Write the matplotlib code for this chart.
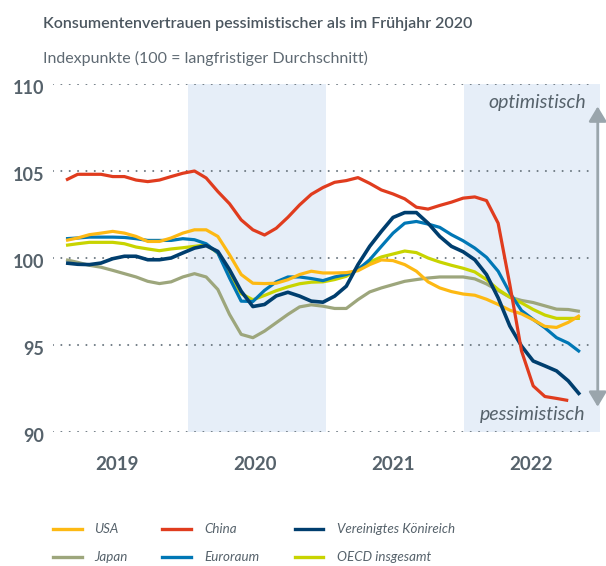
import matplotlib
matplotlib.use("Agg")
import matplotlib.pyplot as plt
from matplotlib.lines import Line2D
from matplotlib.patches import FancyArrowPatch
from matplotlib.transforms import ScaledTranslation
from matplotlib import font_manager

# ---------------- data (monthly, Feb 2019 .. Oct 2022) ----------------
usa = [101.01, 101.15, 101.34, 101.43, 101.53, 101.43, 101.24, 100.95, 100.95, 101.15,
       101.43, 101.62, 101.62, 101.24, 100.19, 99.05, 98.55, 98.53, 98.55, 98.75,
       99.05, 99.24, 99.14, 99.14, 99.16, 99.27, 99.62, 99.89, 99.85, 99.62,
       99.24, 98.63, 98.28, 98.07, 97.93, 97.86, 97.63, 97.33, 97.00, 96.79,
       96.45, 96.07, 96.01, 96.30, 96.70]
china = [104.48, 104.81, 104.81, 104.81, 104.68, 104.68, 104.48, 104.39, 104.48, 104.68,
         104.87, 105.00, 104.60, 103.82, 103.12, 102.19, 101.62, 101.32, 101.71, 102.34,
         103.05, 103.66, 104.05, 104.35, 104.45, 104.62, 104.29, 103.91, 103.68, 103.40,
         102.92, 102.81, 103.02, 103.21, 103.44, 103.51, 103.30, 102.00, 98.47, 94.66,
         92.65, 92.04, 91.93, 91.81]
uk = [99.71, 99.64, 99.62, 99.71, 99.96, 100.10, 100.10, 99.90, 99.90, 100.00,
      100.29, 100.57, 100.71, 100.38, 99.33, 98.09, 97.21, 97.33, 97.82, 98.03,
      97.81, 97.52, 97.46, 97.81, 98.38, 99.62, 100.67, 101.53, 102.33, 102.61,
      102.61, 102.00, 101.24, 100.67, 100.36, 99.90, 99.05, 97.71, 96.09, 94.94,
      94.08, 93.80, 93.51, 92.94, 92.14]
japan = [99.90, 99.75, 99.58, 99.47, 99.29, 99.10, 98.91, 98.66, 98.53, 98.63,
         98.91, 99.10, 98.91, 98.19, 96.76, 95.61, 95.42, 95.80, 96.28, 96.76,
         97.19, 97.31, 97.23, 97.10, 97.10, 97.61, 98.05, 98.28, 98.47, 98.66,
         98.76, 98.85, 98.91, 98.91, 98.91, 98.80, 98.51, 98.13, 97.75, 97.56,
         97.44, 97.25, 97.06, 97.04, 96.93]
euro = [101.11, 101.15, 101.20, 101.20, 101.20, 101.18, 101.11, 101.01, 101.01, 101.01,
        101.11, 101.05, 100.82, 100.29, 98.85, 97.52, 97.50, 98.14, 98.63, 98.91,
        98.91, 98.82, 98.70, 98.91, 99.05, 99.33, 99.90, 100.67, 101.43, 102.00,
        102.10, 101.95, 101.76, 101.34, 100.99, 100.57, 100.04, 99.24, 98.00, 96.98,
        96.47, 95.99, 95.42, 95.11, 94.60]
oecd = [100.73, 100.82, 100.90, 100.90, 100.90, 100.82, 100.63, 100.52, 100.42, 100.52,
        100.59, 100.67, 100.76, 100.29, 99.05, 97.95, 97.60, 97.85, 98.12, 98.34,
        98.52, 98.61, 98.63, 98.76, 98.95, 99.39, 99.77, 100.06, 100.23, 100.40,
        100.31, 100.00, 99.77, 99.58, 99.41, 99.20, 98.76, 98.19, 97.75, 97.42,
        97.04, 96.72, 96.53, 96.53, 96.53]

years = ["2019", "2020", "2021", "2022"]
yticks = [90, 95, 100, 105, 110]
labels = ["USA", "China", "Vereinigtes Könireich", "Japan", "Euroraum", "OECD insgesamt"]

title = "Konsumentenvertrauen pessimistischer als im Frühjahr 2020"
subtitle = "Indexpunkte (100 = langfristiger Durchschnitt)"

# ---------------- styling ----------------
colors = {
    "USA": "#FDB913",
    "China": "#E03C1E",
    "Vereinigtes Könireich": "#003E6E",
    "Japan": "#9DA67C",
    "Euroraum": "#0077B5",
    "OECD insgesamt": "#C8D400",
}
series = {"USA": usa, "China": china, "Vereinigtes Könireich": uk,
          "Japan": japan, "Euroraum": euro, "OECD insgesamt": oecd}
draw_order = ["Japan", "OECD insgesamt", "Euroraum", "USA", "Vereinigtes Könireich", "China"]

TXT = "#56626B"
FONT = "Lato"
plt.rcParams["font.family"] = [FONT, "DejaVu Sans"]


def has_font(name):
    try:
        font_manager.findfont(font_manager.FontProperties(family=name),
                              fallback_to_default=False)
        return True
    except Exception:
        return False


LEG_FONT = "Liberation Sans Narrow" if has_font("Liberation Sans Narrow") else FONT

W, H = 606, 566
fig = plt.figure(figsize=(W / 100, H / 100), dpi=100)
renderer = fig.canvas.get_renderer()


def fx(px):
    return px / W


def fy(py):
    return 1 - py / H


ax = fig.add_axes([fx(53), fy(432), fx(600) - fx(53), fy(84) - fy(432)])

# x positions: month index, axis range derived from layout
x0, x1 = -1.113, 45.72
ax.set_xlim(x0, x1)
ax.set_ylim(90, 110)

shade = "#E6EEF8"
ax.axvspan(10.445, 22.26, color=shade, lw=0, zorder=0)
ax.axvspan(34.08, x1, color=shade, lw=0, zorder=0)

for yv in yticks:
    ax.axhline(yv, xmin=0, xmax=0.9927, color="#6E7A83", lw=1.5,
               linestyle=(0, (0.01, 4.0)), dash_capstyle="round", zorder=1)

for name in draw_order:
    vals = series[name]
    lw = 2.6 if name == "Vereinigtes Könireich" else 2.3
    ax.plot(range(len(vals)), vals, color=colors[name], lw=lw,
            solid_joinstyle="round", solid_capstyle="butt", zorder=3)

for s in ax.spines.values():
    s.set_visible(False)

ax.set_yticks(yticks)
ax.set_yticklabels([str(v) for v in yticks])
ax.tick_params(axis="y", length=0, pad=6.5, labelsize=13, labelcolor=TXT)
for lab in ax.get_yticklabels():
    lab.set_fontweight("bold")
    lab.set_transform(lab.get_transform() + ScaledTranslation(0, -3.0 / 100, fig.dpi_scale_trans))

ax.set_xticks([4.365, 16.18, 28.0, 39.8])
ax.set_xticklabels(years)
ax.tick_params(axis="x", length=0, pad=17, labelsize=13.5, labelcolor=TXT)
for lab in ax.get_xticklabels():
    lab.set_fontweight("bold")

# double arrow optimistisch / pessimistisch
arr = FancyArrowPatch((45.52, 91.45), (45.52, 108.71),
                      arrowstyle="<|-|>,head_length=0.45,head_width=0.27",
                      mutation_scale=20, color="#9AA5AC", lw=1.9,
                      clip_on=False, zorder=4, shrinkA=0, shrinkB=0)
ax.add_patch(arr)
ax.text(44.5, 108.95, "optimistisch", ha="right", va="center", fontsize=14,
        style="italic", color=TXT)
ax.text(44.5, 91.0, "pessimistisch", ha="right", va="center", fontsize=14,
        style="italic", color=TXT)

# titles
fig.text(fx(43), fy(28), title, ha="left", va="baseline", fontsize=11.5,
         fontweight="semibold", color="#4B565F")
fig.text(fx(43), fy(63), subtitle, ha="left", va="baseline", fontsize=11.5,
         color="#5F6A73")

# legend (manual layout); font size fitted so the longest label spans ~118 px
probe = fig.text(0, 0, "Vereinigtes Könireich", fontsize=10, style="italic",
                 family=[LEG_FONT, "DejaVu Sans"])
wpx = probe.get_window_extent(renderer=renderer).width
probe.remove()
leg_size = 10 * 118.0 / wpx

leg_rows = [529, 557]
line_x = [(53, 82), (162, 191), (295, 323)]
text_x = [94, 204, 337]
for k, name in enumerate(labels):
    r, c = divmod(k, 3)
    y = fy(leg_rows[r])
    fig.add_artist(Line2D([fx(line_x[c][0]), fx(line_x[c][1])], [y, y],
                          color=colors[name], lw=2.4, transform=fig.transFigure))
    fig.text(fx(text_x[c]), y, name, ha="left", va="center", fontsize=leg_size,
             style="italic", color=TXT, family=[LEG_FONT, "DejaVu Sans"])

fig.savefig("out.png", dpi=100)
